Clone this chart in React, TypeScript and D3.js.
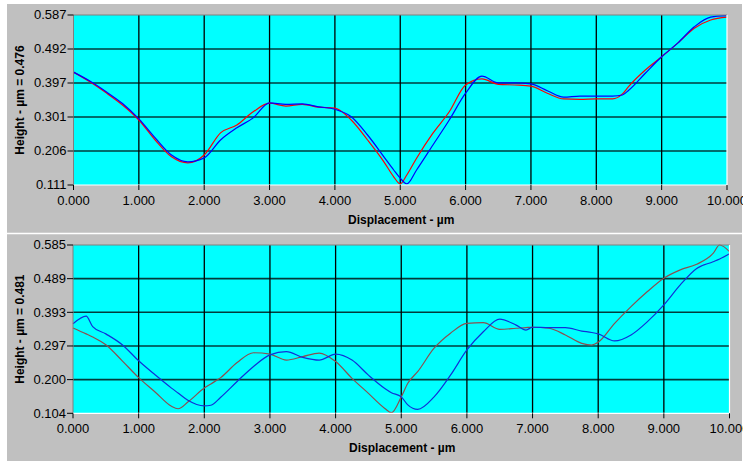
import React from 'react';
import * as d3 from 'd3';

// top profile (µm)
const topX = [0, 0.25, 0.5, 0.75, 1, 1.25, 1.5, 1.75, 2, 2.25, 2.5, 2.75, 3, 3.25, 3.5, 3.75, 4, 4.25, 4.5, 4.75, 4.9, 5, 5.1, 5.25, 5.5, 5.75, 6, 6.25, 6.5, 6.75, 7, 7.25, 7.5, 7.75, 8, 8.25, 8.4, 8.5, 8.75, 9, 9.25, 9.5, 9.75, 10];
const topRed = [0.427, 0.400, 0.369, 0.335, 0.293, 0.237, 0.190, 0.173, 0.195, 0.257, 0.279, 0.316, 0.340, 0.332, 0.337, 0.329, 0.326, 0.293, 0.237, 0.176, 0.134, 0.114, 0.139, 0.186, 0.256, 0.316, 0.391, 0.408, 0.393, 0.391, 0.388, 0.368, 0.352, 0.351, 0.352, 0.352, 0.366, 0.388, 0.433, 0.470, 0.509, 0.550, 0.573, 0.581];
const topBlue = [0.427, 0.402, 0.372, 0.339, 0.296, 0.243, 0.195, 0.176, 0.187, 0.237, 0.271, 0.299, 0.341, 0.337, 0.338, 0.330, 0.323, 0.302, 0.251, 0.190, 0.153, 0.130, 0.114, 0.153, 0.223, 0.293, 0.368, 0.416, 0.397, 0.397, 0.394, 0.375, 0.357, 0.360, 0.360, 0.360, 0.363, 0.377, 0.424, 0.470, 0.509, 0.554, 0.581, 0.585];

// bottom profile (µm)
const botX = [0, 0.2, 0.3, 0.5, 0.75, 1, 1.25, 1.5, 1.6, 1.75, 2, 2.1, 2.25, 2.5, 2.75, 3, 3.25, 3.5, 3.75, 4, 4.25, 4.5, 4.75, 4.85, 5, 5.1, 5.25, 5.5, 5.75, 6, 6.25, 6.5, 6.75, 6.9, 7, 7.25, 7.5, 7.75, 7.9, 8, 8.25, 8.5, 8.75, 9, 9.25, 9.5, 9.75, 9.85, 10];
const botRed = [0.348, 0.331, 0.322, 0.300, 0.254, 0.206, 0.165, 0.124, 0.117, 0.136, 0.176, 0.188, 0.206, 0.249, 0.277, 0.273, 0.256, 0.266, 0.276, 0.252, 0.204, 0.161, 0.118, 0.106, 0.151, 0.190, 0.223, 0.290, 0.333, 0.361, 0.363, 0.344, 0.347, 0.349, 0.350, 0.347, 0.328, 0.304, 0.299, 0.307, 0.361, 0.409, 0.452, 0.490, 0.514, 0.530, 0.561, 0.585, 0.566];
const botBlue = [0.360, 0.382, 0.352, 0.331, 0.300, 0.254, 0.214, 0.176, 0.162, 0.141, 0.125, 0.127, 0.150, 0.195, 0.238, 0.271, 0.280, 0.264, 0.256, 0.273, 0.256, 0.213, 0.175, 0.163, 0.151, 0.128, 0.115, 0.151, 0.213, 0.285, 0.337, 0.373, 0.356, 0.342, 0.350, 0.349, 0.349, 0.339, 0.335, 0.331, 0.311, 0.328, 0.366, 0.414, 0.471, 0.518, 0.537, 0.545, 0.560];

const xTicks = [0, 1, 2, 3, 4, 5, 6, 7, 8, 9, 10];
const topYLabels = ['0.111', '0.206', '0.301', '0.397', '0.492', '0.587'];
const botYLabels = ['0.104', '0.200', '0.297', '0.393', '0.489', '0.585'];

const FONT = '"Liberation Sans", Arial, sans-serif';

type PanelProps = {
  x0: number; x1: number; y0: number; y1: number;
  xs: number[]; a: number[]; b: number[];
  yLabels: string[]; title: string;
  colA: string; colB: string;
};

function Panel({ x0, x1, y0, y1, xs, a, b, yLabels, title, colA, colB }: PanelProps) {
  const lo = +yLabels[0];
  const hi = +yLabels[yLabels.length - 1];
  const x = d3.scaleLinear().domain([0, 10]).range([x0, x1]);
  const y = d3.scaleLinear().domain([lo, hi]).range([y1, y0]);
  // label positions are evenly spaced
  const yPos = d3.scaleLinear().domain([0, yLabels.length - 1]).range([y1, y0]);

  const line = d3.line<number>()
    .x((_, i) => x(xs[i]))
    .y(d => y(d))
    .curve(d3.curveMonotoneX);

  return (
    <g>
      <rect x={x0} y={y0} width={x1 - x0} height={y1 - y0} fill="#00ffff" />
      {yLabels.slice(1, -1).map((_, i) => (
        <line key={'h' + i} x1={x0} x2={x1} y1={yPos(i + 1)} y2={yPos(i + 1)} stroke="#003c3c" strokeWidth={1.6} />
      ))}
      {xTicks.slice(1, -1).map(t => (
        <line key={'v' + t} x1={x(t)} x2={x(t)} y1={y0} y2={y1} stroke="#000" strokeWidth={1.3} />
      ))}
      <path d={line(a) || ''} fill="none" stroke={colA} strokeWidth={1.2} />
      <path d={line(b) || ''} fill="none" stroke={colB} strokeWidth={1.2} />
      {/* sunken frame */}
      <path d={`M${x0},${y1}V${y0}H${x1}`} fill="none" stroke="#808080" strokeWidth={1} />
      <path d={`M${x0},${y1}H${x1}V${y0}`} fill="none" stroke="#ffffff" strokeWidth={1.2} />

      {yLabels.map((l, i) => (
        <g key={'yl' + l}>
          <line x1={x0 - 6} x2={x0} y1={yPos(i)} y2={yPos(i)} stroke="#000" />
          <text x={x0 - 7} y={yPos(i) + 1} textAnchor="end" dominantBaseline="middle"
            fontSize={13} fontFamily={FONT} fill="#000">{l}</text>
        </g>
      ))}
      {xTicks.map(t => (
        <g key={'xl' + t}>
          <line x1={x(t)} x2={x(t)} y1={y1} y2={y1 + 5} stroke="#000" />
          <text x={x(t)} y={y1 + 20} textAnchor="middle"
            fontSize={13} fontFamily={FONT} fill="#000">{d3.format('.3f')(t)}</text>
        </g>
      ))}
      <text x={(x0 + x1) / 2 + 1} y={y1 + 39} textAnchor="middle" fontSize={12} fontWeight="bold"
        fontFamily={FONT} fill="#000">Displacement - µm</text>
      <text transform={`translate(24,${(y0 + y1) / 2}) rotate(-90)`} textAnchor="middle" fontSize={12}
        fontWeight="bold" fontFamily={FONT} fill="#000">{title}</text>
    </g>
  );
}

export default function App() {
  return (
    <svg width={743} height={461} style={{ position: 'fixed', left: 0, top: 0 }}>
      <rect width={743} height={461} fill="#ffffff" />
      <rect x={7} y={4} width={735} height={457} fill="#c0c0c0" />
      <line x1={7} x2={742} y1={233.5} y2={233.5} stroke="#ffffff" strokeWidth={1.5} />
      <Panel x0={73.5} x1={727} y0={15} y1={185} xs={topX} a={topRed} b={topBlue}
        yLabels={topYLabels} title="Height - µm = 0.476" colA="#ff0000" colB="#0000ff" />
      <Panel x0={73} x1={729.5} y0={245} y1={413.3} xs={botX} a={botRed} b={botBlue}
        yLabels={botYLabels} title="Height - µm = 0.481" colA="#8a5050" colB="#1030d8" />
    </svg>
  );
}
